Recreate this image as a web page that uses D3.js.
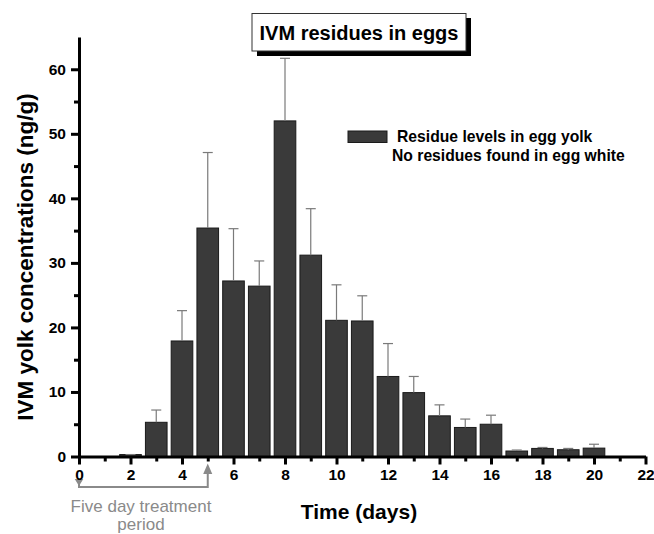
<!DOCTYPE html>
<html>
<head>
<meta charset="utf-8">
<script src="https://cdn.jsdelivr.net/npm/d3@7"></script>
<style>
  body { margin: 0; background: #fff; }
  svg text { font-family: "Liberation Sans", Arial, sans-serif; }
  .axis path, .axis line { stroke: #000; stroke-width: 3px; }
  .axis text { fill: #000; font-size: 15.5px; font-weight: bold; }
</style>
</head>
<body>
<svg id="chart" width="654" height="534"></svg>
<script>
// values
var days = [2, 3, 4, 5, 6, 7, 8, 9, 10, 11, 12, 13, 14, 15, 16, 17, 18, 19, 20];
var yolk = [0.3, 5.3, 17.9, 35.4, 27.2, 26.4, 52.0, 31.2, 21.1, 21.0, 12.4, 9.9, 6.3, 4.5, 5.0, 0.85, 1.25, 1.05, 1.3];
var errTop = [0.3, 7.2, 22.6, 47.1, 35.3, 30.3, 61.7, 38.4, 26.6, 24.9, 17.5, 12.4, 8.0, 5.8, 6.4, 1.0, 1.4, 1.25, 1.9];
var xTicks = [0, 1, 2, 3, 4, 5, 6, 7, 8, 9, 10, 11, 12, 13, 14, 15, 16, 17, 18, 19, 20, 21, 22];
var yTicks = [0, 5, 10, 15, 20, 25, 30, 35, 40, 45, 50, 55, 60];
var legendLines = ["Residue levels in egg yolk", "No residues found in egg white"];

var svg = d3.select("svg#chart"),
    margin = {top: 37, left: 79, right: 8, bottom: 77},
    width = 645.5 - margin.left,
    height = 456.5 - margin.top;

var x = d3.scaleLinear().domain([0, 22]).range([0, width]);
var y = d3.scaleLinear().domain([0, 65]).range([height, 0]);
var barW = x(0.84) - x(0);

var g = svg.append("g")
    .attr("transform", "translate(" + margin.left + "," + margin.top + ")");

// bars
g.selectAll("rect.bar")
    .data(days)
  .enter().append("rect")
    .attr("class", "bar")
    .attr("x", function(d) { return x(d) - barW / 2; })
    .attr("y", function(d, i) { return y(yolk[i]); })
    .attr("width", barW)
    .attr("height", function(d, i) { return height - y(yolk[i]); })
    .attr("fill", "#3a3a3a")
    .attr("stroke", "#1a1a1a")
    .attr("stroke-width", 1);

// error bars (upper only)
var errs = g.selectAll("g.err")
    .data(days)
  .enter().append("g")
    .attr("class", "err")
    .attr("stroke", "#7a7a7a")
    .attr("stroke-width", 1.2);

errs.append("line")
    .attr("x1", function(d) { return x(d); })
    .attr("x2", function(d) { return x(d); })
    .attr("y1", function(d, i) { return y(yolk[i]); })
    .attr("y2", function(d, i) { return y(errTop[i]); });

errs.append("line")
    .attr("x1", function(d) { return x(d) - 5; })
    .attr("x2", function(d) { return x(d) + 5; })
    .attr("y1", function(d, i) { return y(errTop[i]); })
    .attr("y2", function(d, i) { return y(errTop[i]); });

// axis titles
svg.append("text")
    .attr("x", 359)
    .attr("y", 519)
    .attr("text-anchor", "middle")
    .style("font-size", "21px")
    .style("font-weight", "bold")
    .text("Time (days)");

svg.append("text")
    .attr("transform", "translate(33,257) rotate(-90)")
    .attr("text-anchor", "middle")
    .style("font-size", "22.5px")
    .style("font-weight", "bold")
    .text("IVM yolk concentrations (ng/g)");

// title box with shadow
svg.append("rect")
    .attr("x", 257).attr("y", 18)
    .attr("width", 214).attr("height", 38)
    .attr("fill", "#000");
svg.append("rect")
    .attr("x", 252).attr("y", 13.5)
    .attr("width", 214).attr("height", 37.5)
    .attr("fill", "#fff")
    .attr("stroke", "#333")
    .attr("stroke-width", 1);
svg.append("text")
    .attr("x", 359)
    .attr("y", 39.5)
    .attr("text-anchor", "middle")
    .style("font-size", "20px")
    .style("font-weight", "bold")
    .text("IVM residues in eggs");

// legend
svg.append("rect")
    .attr("x", 348).attr("y", 131)
    .attr("width", 39).attr("height", 11.5)
    .attr("fill", "#3a3a3a")
    .attr("stroke", "#1a1a1a");
svg.selectAll("text.legend")
    .data(legendLines)
  .enter().append("text")
    .attr("class", "legend")
    .attr("x", function(d, i) { return i === 0 ? 397 : 392; })
    .attr("y", function(d, i) { return 142 + i * 19; })
    .style("font-size", "15.7px")
    .style("font-weight", "bold")
    .text(function(d) { return d; });

// treatment period annotation
var ann = svg.append("g")
    .attr("transform", "translate(" + margin.left + ",0)")
    .attr("stroke", "#8a8a8a")
    .attr("stroke-width", 2)
    .attr("fill", "none");
ann.append("path")
    .attr("d", "M" + x(0) + ",481V487H" + x(5) + "V468");
ann.append("path")
    .attr("d", "M" + (x(5) - 3) + ",473L" + x(5) + ",466L" + (x(5) + 3) + ",473Z")
    .attr("fill", "#8a8a8a");
ann.append("path")
    .attr("d", "M" + (x(0) - 2.5) + ",480L" + x(0) + ",484L" + (x(0) + 2.5) + ",480Z")
    .attr("fill", "#8a8a8a");

svg.append("text")
    .attr("x", 141)
    .attr("y", 512)
    .attr("text-anchor", "middle")
    .attr("fill", "#8a8a8a")
    .style("font-size", "17px")
    .text("Five day treatment");
svg.append("text")
    .attr("x", 141)
    .attr("y", 530)
    .attr("text-anchor", "middle")
    .attr("fill", "#8a8a8a")
    .style("font-size", "17px")
    .text("period");

// axes drawn last, straight on the svg; odd ticks shorter and unlabelled
var xAxis = svg.append("g")
    .attr("class", "axis")
    .attr("transform", "translate(" + margin.left + "," + (margin.top + height) + ")")
    .call(d3.axisBottom(x).tickValues(xTicks).tickSize(8).tickPadding(4).tickSizeOuter(0)
      .tickFormat(function(d) { return d % 2 ? "" : d; }));
xAxis.selectAll(".tick line").filter(function(d) { return d % 2; }).attr("y2", 5);

var yAxis = svg.append("g")
    .attr("class", "axis")
    .attr("transform", "translate(" + margin.left + "," + margin.top + ")")
    .call(d3.axisLeft(y).tickValues(yTicks).tickSize(8).tickPadding(5).tickSizeOuter(0)
      .tickFormat(function(d) { return d % 10 ? "" : d; }));
yAxis.selectAll(".tick line").filter(function(d) { return d % 10; }).attr("x2", -5);

svg.selectAll(".axis path, .axis line")
    .style("stroke", "#000")
    .style("stroke-width", "3px");
</script>
</body>
</html>
